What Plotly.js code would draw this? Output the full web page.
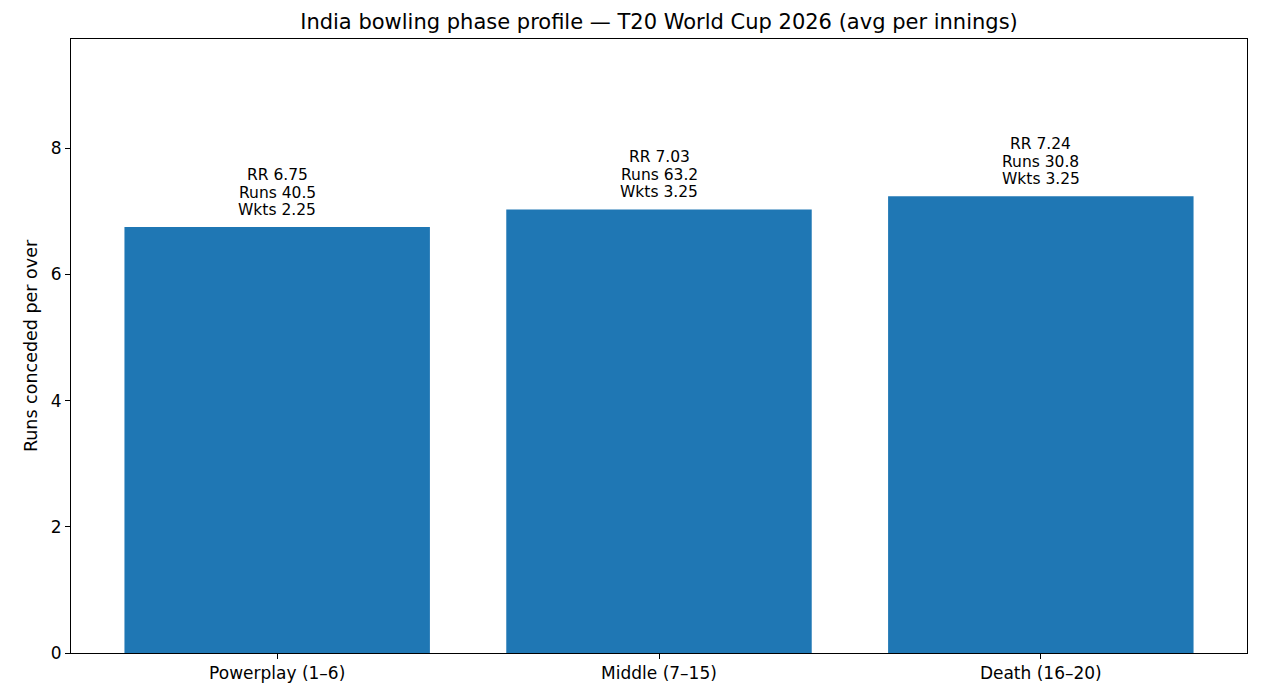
<!DOCTYPE html>
<html>
<head>
<meta charset="utf-8">
<script src="https://cdn.plot.ly/plotly-3.0.1.min.js"></script>
<style>
  body { margin: 0; background: #fff; }
  #chart { width: 1268px; height: 688px; }
</style>
</head>
<body>
<div id="chart"></div>
<script>
const phases = ["Powerplay (1–6)", "Middle (7–15)", "Death (16–20)"];
const runRate = [6.75, 7.03, 7.24];
const runs = [40.5, 63.2, 30.8];
const wickets = [2.25, 3.25, 3.25];

const bars = {
  x: [0, 1, 2],
  y: runRate,
  type: "bar",
  width: 0.8,
  marker: { color: "#1f77b4" },
  hoverinfo: "skip",
};

// one annotation per text line so the line spacing can match the original
const labels = [];
runRate.forEach((rr, i) => {
  const lines = [`Wkts ${wickets[i].toFixed(2)}`, `Runs ${runs[i].toFixed(1)}`, `RR ${rr.toFixed(2)}`];
  lines.forEach((txt, k) => {
    labels.push({
      x: i,
      y: rr,
      xref: "x",
      yref: "y",
      text: txt,
      showarrow: false,
      yanchor: "middle",
      yshift: 17 + k * 17.5,
      font: { size: 15.5, color: "#000" },
    });
  });
});

const axisStyle = {
  showline: true,
  linecolor: "#000",
  linewidth: 1,
  mirror: true,
  showgrid: false,
  zeroline: false,
  ticks: "outside",
  ticklen: 5,
  tickcolor: "#000",
  tickfont: { size: 17, color: "#000" },
};

const layout = {
  width: 1268,
  height: 688,
  margin: { l: 71, r: 21, t: 39, b: 35 },
  paper_bgcolor: "#fff",
  plot_bgcolor: "#fff",
  font: { family: "DejaVu Sans", color: "#000" },
  title: {
    text: "India bowling phase profile — T20 World Cup 2026 (avg per innings)",
    font: { size: 21, color: "#000" },
    xref: "paper",
    x: 0.5,
    xanchor: "center",
    y: 1 - 22 / 688,
    yanchor: "middle",
  },
  xaxis: {
    ...axisStyle,
    range: [-0.54, 2.54],
    tickvals: [0, 1, 2],
    ticktext: phases,
  },
  yaxis: {
    ...axisStyle,
    range: [0, 9.73],
    tickvals: [0, 2, 4, 6, 8],
    title: { text: "Runs conceded per over", font: { size: 17.5, color: "#000" }, standoff: 8 },
  },
  annotations: labels,
  showlegend: false,
};

Plotly.newPlot("chart", [bars], layout, { displayModeBar: false, staticPlot: true });
</script>
</body>
</html>
